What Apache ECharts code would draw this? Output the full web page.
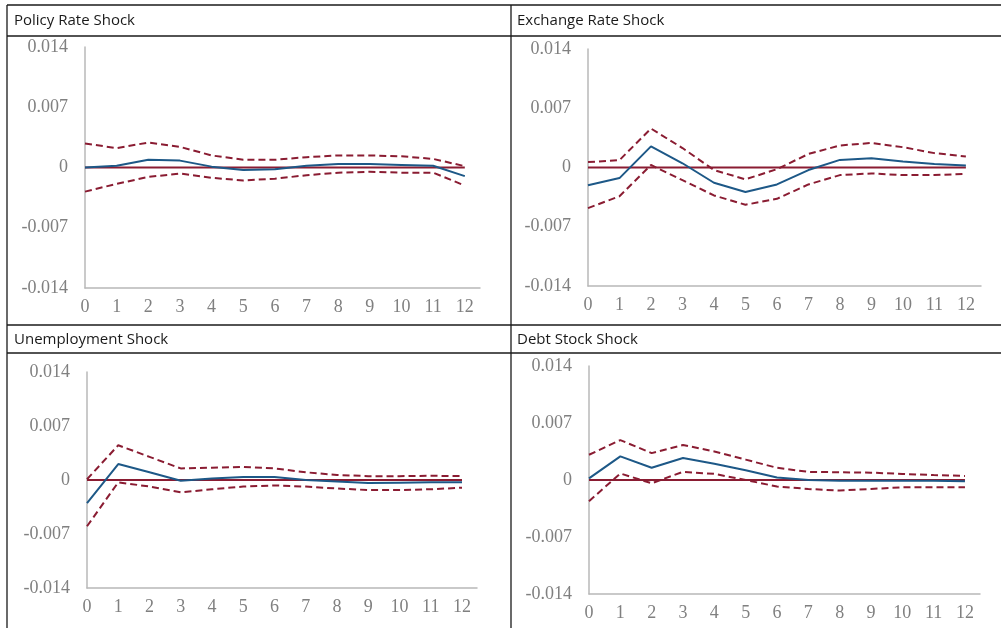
<!DOCTYPE html>
<html>
<head>
<meta charset="utf-8">
<script src="https://cdn.jsdelivr.net/npm/echarts@6/dist/echarts.min.js"></script>
<style>
html,body{margin:0;padding:0;background:#fff;}
#c{width:1001px;height:628px;}
</style>
</head>
<body>
<div id="c"></div>
<script>
// ---- data ----
const horizons = [0,1,2,3,4,5,6,7,8,9,10,11,12];
const panelTitles = ['Policy Rate Shock','Exchange Rate Shock','Unemployment Shock','Debt Stock Shock'];
const yTickLabels = {'-14':'-0.014','-7':'-0.007','0':'0','7':'0.007','14':'0.014'};
const zeroLine = [0,0,0,0,0,0,0,0,0,0,0,0,0];

const policyIRF   = [0.0000,0.0002,0.0009,0.0008,0.0001,-0.0003,-0.0002,0.0002,0.0004,0.0004,0.0003,0.0002,-0.0010];
const policyUpper = [0.0028,0.00225,0.0029,0.0024,0.0014,0.0009,0.0009,0.0012,0.0014,0.0014,0.0013,0.0010,0.00015];
const policyLower = [-0.0028,-0.0019,-0.0011,-0.0007,-0.0012,-0.0015,-0.0013,-0.0009,-0.0006,-0.0005,-0.0006,-0.0006,-0.0021];

const fxIRF   = [-0.0021,-0.00125,0.0025,0.0005,-0.0018,-0.0029,-0.0020,-0.0003,0.0009,0.0011,0.0007,0.0004,0.00025];
const fxUpper = [0.00064,0.00087,0.0046,0.0023,-0.0003,-0.0014,-0.0002,0.0016,0.0026,0.0029,0.0024,0.0017,0.0013];
const fxLower = [-0.0048,-0.0034,0.0003,-0.0015,-0.0033,-0.0044,-0.0037,-0.0020,-0.0009,-0.0007,-0.0009,-0.0009,-0.00075];

const unempIRF   = [-0.0030,0.00207,0.0010,-0.0001,0.0002,0.0004,0.0004,0.0000,-0.0002,-0.0004,-0.00035,-0.0003,-0.0003];
const unempUpper = [0.0001,0.0045,0.0030,0.0015,0.0016,0.0017,0.0015,0.0010,0.00065,0.0005,0.0005,0.00055,0.0005];
const unempLower = [-0.0060,-0.0003,-0.00085,-0.0016,-0.0012,-0.00085,-0.0007,-0.00085,-0.0011,-0.0013,-0.0013,-0.0012,-0.0010];

const debtIRF   = [0.0002,0.0029,0.0015,0.0027,0.0020,0.0012,0.0003,0.0000,-0.0001,-0.0001,-0.0001,-0.0001,-0.00015];
const debtUpper = [0.0031,0.0049,0.0033,0.0043,0.0035,0.0025,0.0015,0.0010,0.00095,0.0009,0.00075,0.0006,0.0005];
const debtLower = [-0.0026,0.0008,-0.0004,0.0010,0.00075,0.0000,-0.0008,-0.0011,-0.0013,-0.0011,-0.0009,-0.0009,-0.0009];

const panels = [
  {irf: policyIRF, up: policyUpper, lo: policyLower},
  {irf: fxIRF, up: fxUpper, lo: fxLower},
  {irf: unempIRF, up: unempUpper, lo: unempLower},
  {irf: debtIRF, up: debtUpper, lo: debtLower}
];

// ---- layout ----
const grids = [
  {left: 85, top: 47, width: 395, height: 241},
  {left: 588, top: 49, width: 393, height: 237},
  {left: 87, top: 372, width: 390, height: 216},
  {left: 589, top: 366, width: 391, height: 228}
];
const titlePos = [{left:14, top:13},{left:517, top:13},{left:14, top:332},{left:517, top:332}];

const BLUE = '#1d5887';
const RED = '#8a1c32';
const serif = '"Liberation Serif","DejaVu Serif",serif';

const pairs = arr => arr.map((v,i)=>[horizons[i], v]);

const option = {
  animation: false,
  backgroundColor: '#fff',
  title: panelTitles.map((t,i)=>({
    text: t, left: titlePos[i].left, top: titlePos[i].top, padding: 0,
    textStyle: {fontFamily: '"Open Sans","Noto Sans",sans-serif', fontSize: 15, fontWeight: 'normal', color: '#1a1a1a'}
  })),
  grid: grids.map(g=>Object.assign({containLabel:false}, g)),
  xAxis: grids.map((g,i)=>({
    type: 'value', gridIndex: i, min: 0, max: 12.48, interval: 1,
    axisLine: {show: true, onZero: false, lineStyle: {color: '#b8b8b8', width: 1.5}},
    axisTick: {show: false},
    splitLine: {show: false},
    axisLabel: {
      showMaxLabel: false,
      margin: 10, fontFamily: serif, fontSize: 18, color: '#808080',
      formatter: v => Number.isInteger(v) ? String(v) : ''
    }
  })),
  yAxis: grids.map((g,i)=>({
    type: 'value', gridIndex: i, min: -0.014, max: 0.014, interval: 0.007,
    axisLine: {show: true, onZero: false, lineStyle: {color: '#b8b8b8', width: 1.5}},
    axisTick: {show: false},
    splitLine: {show: false},
    axisLabel: {
      margin: 17, fontFamily: serif, fontSize: 18, color: '#808080',
      formatter: v => yTickLabels[String(Math.round(v*1000))] || ''
    }
  })),
  series: [],
  graphic: []
};

panels.forEach((p,i)=>{
  option.series.push({type:'line', xAxisIndex:i, yAxisIndex:i, data: pairs(zeroLine), symbol:'none',
    lineStyle:{color: RED, width: 2}, z: 2});
  option.series.push({type:'line', xAxisIndex:i, yAxisIndex:i, data: pairs(p.irf), symbol:'none',
    lineStyle:{color: BLUE, width: 2}, z: 3});
  option.series.push({type:'line', xAxisIndex:i, yAxisIndex:i, data: pairs(p.up), symbol:'none',
    lineStyle:{color: RED, width: 2, type: [7,4]}, z: 3});
  option.series.push({type:'line', xAxisIndex:i, yAxisIndex:i, data: pairs(p.lo), symbol:'none',
    lineStyle:{color: RED, width: 2, type: [7,4]}, z: 3});
});

// frame lines (table borders)
const frameStyle = {stroke: '#1a1a1a', lineWidth: 1.3};
[[7,5,1001,5],[7,36,1001,36],[7,325,1001,325],[7,353,1001,353],[7,5,7,628],[511,5,511,628]].forEach(s=>{
  option.graphic.push({type:'line', silent:true, shape:{x1:s[0],y1:s[1],x2:s[2],y2:s[3]}, style: frameStyle, z: 10});
});

const chart = echarts.init(document.getElementById('c'), null, {renderer:'canvas'});
chart.setOption(option);
</script>
</body>
</html>
